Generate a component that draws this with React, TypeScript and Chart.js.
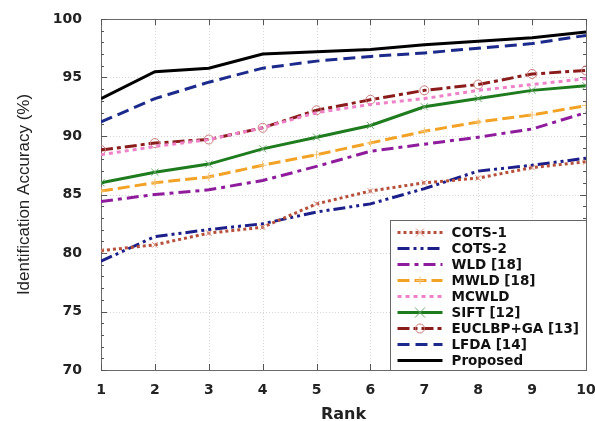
import React, { useEffect, useRef } from 'react';
import { Chart, registerables } from 'chart.js';

Chart.register(...registerables);

const ranks = [1, 2, 3, 4, 5, 6, 7, 8, 9, 10];
const yTicks = [70, 75, 80, 85, 90, 95, 100];

const cots1 = [80.2, 80.7, 81.7, 82.2, 84.2, 85.3, 86.0, 86.4, 87.3, 87.8];
const cots2 = [79.3, 81.4, 82.0, 82.5, 83.5, 84.2, 85.5, 87.0, 87.5, 88.1];
const wld = [84.4, 85.0, 85.4, 86.2, 87.4, 88.7, 89.3, 89.9, 90.6, 92.0];
const mwld = [85.3, 86.0, 86.5, 87.5, 88.4, 89.4, 90.4, 91.2, 91.8, 92.6];
const mcwld = [88.4, 89.1, 89.7, 90.7, 92.0, 92.7, 93.2, 93.9, 94.4, 94.9];
const sift = [86.0, 86.9, 87.6, 88.9, 89.9, 90.9, 92.5, 93.2, 93.9, 94.3];
const euclbp = [88.8, 89.4, 89.7, 90.7, 92.2, 93.1, 93.9, 94.4, 95.3, 95.6];
const lfda = [91.2, 93.2, 94.6, 95.8, 96.4, 96.8, 97.1, 97.5, 97.9, 98.6];
const proposed = [93.2, 95.5, 95.8, 97.0, 97.2, 97.4, 97.8, 98.1, 98.4, 98.9];

const seriesNames = ['COTS-1', 'COTS-2', 'WLD [18]', 'MWLD [18]', 'MCWLD', 'SIFT [12]', 'EUCLBP+GA [13]', 'LFDA [14]', 'Proposed'];

type SeriesStyle = { color: string; dash: number[]; width: number; marker: string | null; markerColor: string; markerSize: number };

const seriesStyles: SeriesStyle[] = [
  { color: '#b5503a', dash: [3, 3], width: 3, marker: 'crossRot', markerColor: '#d89080', markerSize: 4 },
  { color: '#1c1f8a', dash: [12, 4, 3, 4, 3, 4], width: 3, marker: null, markerColor: '#1c1f8a', markerSize: 0 },
  { color: '#8e1c9c', dash: [12, 5, 4, 5], width: 3, marker: null, markerColor: '#8e1c9c', markerSize: 0 },
  { color: '#f2a224', dash: [12, 5], width: 3, marker: 'cross', markerColor: '#f6c67a', markerSize: 4 },
  { color: '#ee82c8', dash: [4, 4], width: 3, marker: null, markerColor: '#ee82c8', markerSize: 0 },
  { color: '#1e7b1e', dash: [], width: 3, marker: 'crossRot', markerColor: '#6aa86a', markerSize: 5 },
  { color: '#8b1c1c', dash: [12, 4, 4, 4], width: 3, marker: 'circle', markerColor: '#c87a7a', markerSize: 4.5 },
  { color: '#1c2a8c', dash: [12, 6], width: 3, marker: null, markerColor: '#1c2a8c', markerSize: 0 },
  { color: '#000000', dash: [], width: 3, marker: null, markerColor: '#000000', markerSize: 0 },
];

const seriesValues = [cots1, cots2, wld, mwld, mcwld, sift, euclbp, lfda, proposed];

function drawMarker(ctx: CanvasRenderingContext2D, kind: string | null, x: number, y: number, r: number, color: string) {
  if (!kind) return;
  ctx.save();
  ctx.setLineDash([]);
  ctx.strokeStyle = color;
  ctx.lineWidth = 1;
  ctx.beginPath();
  if (kind === 'crossRot') {
    ctx.moveTo(x - r, y - r); ctx.lineTo(x + r, y + r);
    ctx.moveTo(x + r, y - r); ctx.lineTo(x - r, y + r);
  } else if (kind === 'cross') {
    ctx.moveTo(x - r, y); ctx.lineTo(x + r, y);
    ctx.moveTo(x, y - r); ctx.lineTo(x, y + r);
  } else if (kind === 'circle') {
    ctx.arc(x, y, r, 0, Math.PI * 2);
  }
  ctx.stroke();
  ctx.restore();
}

const framePlugin = {
  id: 'frame',
  beforeDatasetsDraw(chart: any) {
    const { ctx, chartArea } = chart;
    const xs = chart.scales.x;
    const ys = chart.scales.y;
    const { left, right, top, bottom } = chartArea;
    ctx.save();
    // dotted grid
    ctx.strokeStyle = '#d6d6d6';
    ctx.lineWidth = 1;
    ctx.setLineDash([1, 2]);
    yTicks.forEach((v) => {
      const py = Math.round(ys.getPixelForValue(v)) + 0.5;
      if (v === yTicks[0] || v === yTicks[yTicks.length - 1]) return;
      ctx.beginPath(); ctx.moveTo(left, py); ctx.lineTo(right, py); ctx.stroke();
    });
    ranks.forEach((r) => {
      if (r === ranks[0] || r === ranks[ranks.length - 1]) return;
      const px = Math.round(xs.getPixelForValue(r)) + 0.5;
      ctx.beginPath(); ctx.moveTo(px, top); ctx.lineTo(px, bottom); ctx.stroke();
    });
    ctx.setLineDash([]);
    // box
    ctx.strokeStyle = '#6a6a6a';
    ctx.strokeRect(Math.round(left) + 0.5, Math.round(top) + 0.5, Math.round(right - left), Math.round(bottom - top));
    // ticks on y (inward, left and right)
    ctx.strokeStyle = '#555';
    const yMin = yTicks[0];
    const yMax = yTicks[yTicks.length - 1];
    for (let v = yMin; v <= yMax; v += 1) {
      const py = Math.round(ys.getPixelForValue(v)) + 0.5;
      const len = v % 5 === 0 ? 6 : 3;
      ctx.beginPath();
      ctx.moveTo(left, py); ctx.lineTo(left + len, py);
      ctx.moveTo(right, py); ctx.lineTo(right - len, py);
      ctx.stroke();
    }
    ranks.forEach((r) => {
      const px = Math.round(xs.getPixelForValue(r)) + 0.5;
      ctx.beginPath();
      ctx.moveTo(px, bottom); ctx.lineTo(px, bottom - 6);
      ctx.moveTo(px, top); ctx.lineTo(px, top + 6);
      ctx.stroke();
    });
    ctx.restore();
  },
  afterDatasetsDraw(chart: any) {
    const { ctx, chartArea } = chart;
    const { right, bottom } = chartArea;
    const boxW = 196;
    const boxH = 150;
    const bx = Math.round(right - boxW) + 0.5;
    const by = Math.round(bottom - boxH) + 0.5;
    ctx.save();
    ctx.fillStyle = '#ffffff';
    ctx.fillRect(bx, by, boxW, boxH);
    ctx.strokeStyle = '#666';
    ctx.lineWidth = 1;
    ctx.strokeRect(bx, by, boxW, boxH);
    ctx.font = 'bold 13.5px "DejaVu Sans"';
    ctx.textBaseline = 'middle';
    ctx.fillStyle = '#111';
    seriesNames.forEach((name, i) => {
      const st = seriesStyles[i];
      const y = by + 12 + i * 16;
      ctx.save();
      ctx.strokeStyle = st.color;
      ctx.lineWidth = st.width;
      ctx.setLineDash(st.dash);
      ctx.beginPath();
      ctx.moveTo(bx + 7, y);
      ctx.lineTo(bx + 52, y);
      ctx.stroke();
      ctx.restore();
      drawMarker(ctx, st.marker, bx + 29.5, y, st.markerSize, st.markerColor);
      ctx.fillStyle = '#111';
      ctx.fillText(name, bx + 61, y + 1);
    });
    ctx.restore();
  },
};

export default function App() {
  const ref = useRef<HTMLCanvasElement>(null);

  useEffect(() => {
    document.body.style.margin = '0';
    if (!ref.current) return;
    const datasets = seriesValues.map((vals, i) => {
      const st = seriesStyles[i];
      return {
        label: seriesNames[i],
        data: ranks.map((r, j) => ({ x: r, y: vals[j] })),
        borderColor: st.color,
        backgroundColor: st.color,
        borderWidth: st.width,
        borderDash: st.dash,
        fill: false,
        tension: 0,
        pointStyle: st.marker || 'circle',
        pointRadius: st.marker ? st.markerSize : 0,
        pointHoverRadius: 0,
        pointBorderColor: st.markerColor,
        pointBackgroundColor: 'rgba(0,0,0,0)',
        pointBorderWidth: 1,
      };
    });
    const chart = new Chart(ref.current, {
      type: 'line',
      data: { datasets },
      plugins: [framePlugin],
      options: {
        responsive: false,
        animation: false,
        events: [],
        layout: { padding: { left: 0, top: 19, right: 9, bottom: 0 } },
        plugins: { legend: { display: false }, tooltip: { enabled: false } },
        scales: {
          x: {
            type: 'linear',
            min: ranks[0],
            max: ranks[ranks.length - 1],
            afterBuildTicks: (s: any) => { s.ticks = ranks.map((v) => ({ value: v })); },
            afterFit: (s: any) => { s.height = 51; s.paddingLeft = 0; s.paddingRight = 0; },
            grid: { display: false, drawTicks: false },
            border: { display: false },
            ticks: {
              padding: 12,
              maxRotation: 0,
              autoSkip: false,
              color: '#222',
              font: { family: 'DejaVu Sans', weight: 'bold', size: 14 },
            },
            title: {
              display: true,
              text: 'Rank',
              color: '#222',
              padding: { top: 0, bottom: 0 },
              font: { family: 'DejaVu Sans', weight: 'bold', size: 16, lineHeight: 0.75 },
            },
          },
          y: {
            type: 'linear',
            min: yTicks[0],
            max: yTicks[yTicks.length - 1],
            afterBuildTicks: (s: any) => { s.ticks = yTicks.map((v) => ({ value: v })); },
            afterFit: (s: any) => { s.width = 101; s.paddingTop = 0; s.paddingBottom = 0; },
            grid: { display: false, drawTicks: false },
            border: { display: false },
            ticks: {
              padding: 19,
              color: '#222',
              font: { family: 'DejaVu Sans', weight: 'bold', size: 14 },
            },
            title: {
              display: true,
              text: 'Identification Accuracy (%)',
              color: '#222',
              padding: { top: 14, bottom: 0 },
              font: { family: 'Liberation Sans', size: 17, lineHeight: 1.2 },
            },
          },
        },
      } as any,
    });
    return () => chart.destroy();
  }, []);

  return (
    <div style={{ width: 595, height: 421, background: '#fff' }}>
      <canvas ref={ref} width={595} height={421} style={{ display: 'block' }} />
    </div>
  );
}
